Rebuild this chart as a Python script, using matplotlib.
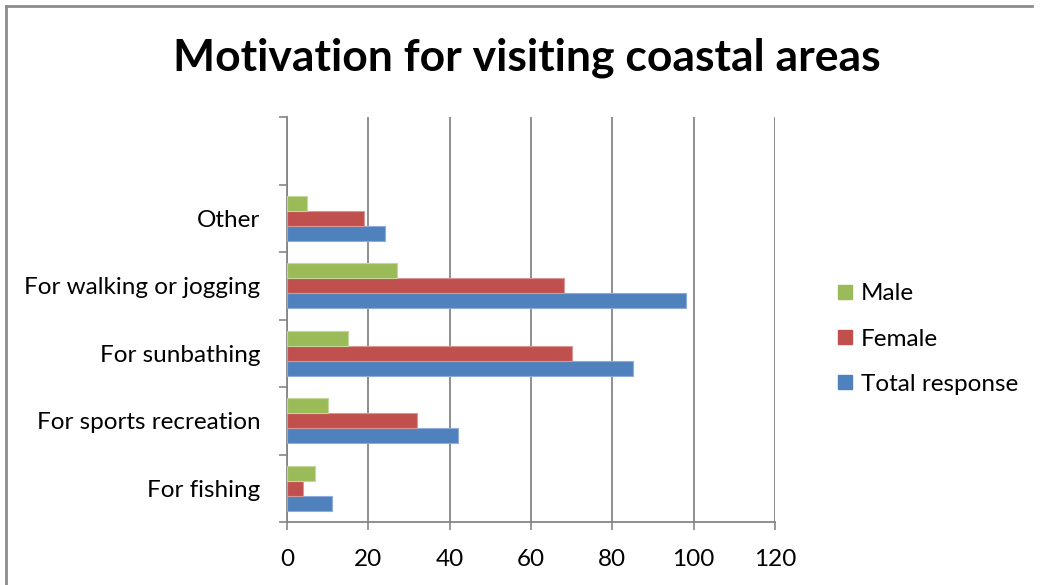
import numpy as np
import matplotlib
matplotlib.use("Agg")
import matplotlib.pyplot as plt
from matplotlib.lines import Line2D

plt.rcParams['font.family'] = ['Lato', 'DejaVu Sans']

categories = ['For fishing', 'For sports recreation', 'For sunbathing',
              'For walking or jogging', 'Other']
total = [11, 42, 85, 98, 24]
female = [4, 32, 70, 68, 19]
male = [7, 10, 15, 27, 5]
series_names = ['Total response', 'Female', 'Male']
colors = ['#4F81BD', '#C0504D', '#9BBB59']
edges = ['#8FAADC', '#D99694', '#C3D69B']

fig = plt.figure(figsize=(10.41, 5.85), dpi=100)
ax = fig.add_axes([287 / 1041, 1 - 522 / 585, 488 / 1041, 405 / 585])

pos = np.arange(len(categories))
h = 0.222
for k, vals in enumerate([total, female, male]):
    ax.barh(pos + (k - 1) * h, vals, height=h, color=colors[k],
            edgecolor=edges[k], linewidth=0.8, zorder=3,
            label=series_names[k])

ax.set_xlim(0, 120)
ax.set_ylim(-0.5, 5.5)
ax.set_xticks(range(0, 121, 20))
ax.set_yticks(pos)
ax.set_yticklabels(categories)
ax.set_yticks(np.arange(-0.5, 5.6, 1), minor=True)
ax.tick_params(axis='y', which='major', length=0, pad=19, labelsize=17.5)
ax.tick_params(axis='y', which='minor', length=5.8, width=1.2,
               color='#868686', direction='out')
ax.tick_params(axis='x', length=5.8, width=1.2, color='#868686',
               pad=14, labelsize=17.5)
ax.grid(axis='x', color='#868686', linewidth=1.3, zorder=0)
for s in ['top', 'right']:
    ax.spines[s].set_visible(False)
for s in ['left', 'bottom']:
    ax.spines[s].set_color('#868686')
    ax.spines[s].set_linewidth(1.3)

fig.text(527 / 1041, 1 - 58 / 585, 'Motivation for visiting coastal areas',
         ha='center', va='center', fontsize=32, fontweight='bold')

handles = [Line2D([], [], marker='s', linestyle='none', markersize=10,
                  markerfacecolor=c, markeredgecolor=c)
           for c in colors[::-1]]
fig.legend(handles, series_names[::-1], loc='center left',
           bbox_to_anchor=(811 / 1041, 1 - 339 / 585), frameon=False,
           fontsize=17.5, labelspacing=1.0, handletextpad=0.15,
           handlelength=1.0)

# chart border (left and top edges visible)
fig.add_artist(Line2D([6 / 1041, 6 / 1041], [0, 1 - 6 / 585],
                      transform=fig.transFigure, color='#8c8c8c', lw=2))
fig.add_artist(Line2D([6 / 1041, 1032 / 1041], [1 - 6 / 585, 1 - 6 / 585],
                      transform=fig.transFigure, color='#8c8c8c', lw=2))

fig.savefig('out.png', dpi=100, facecolor='white')
